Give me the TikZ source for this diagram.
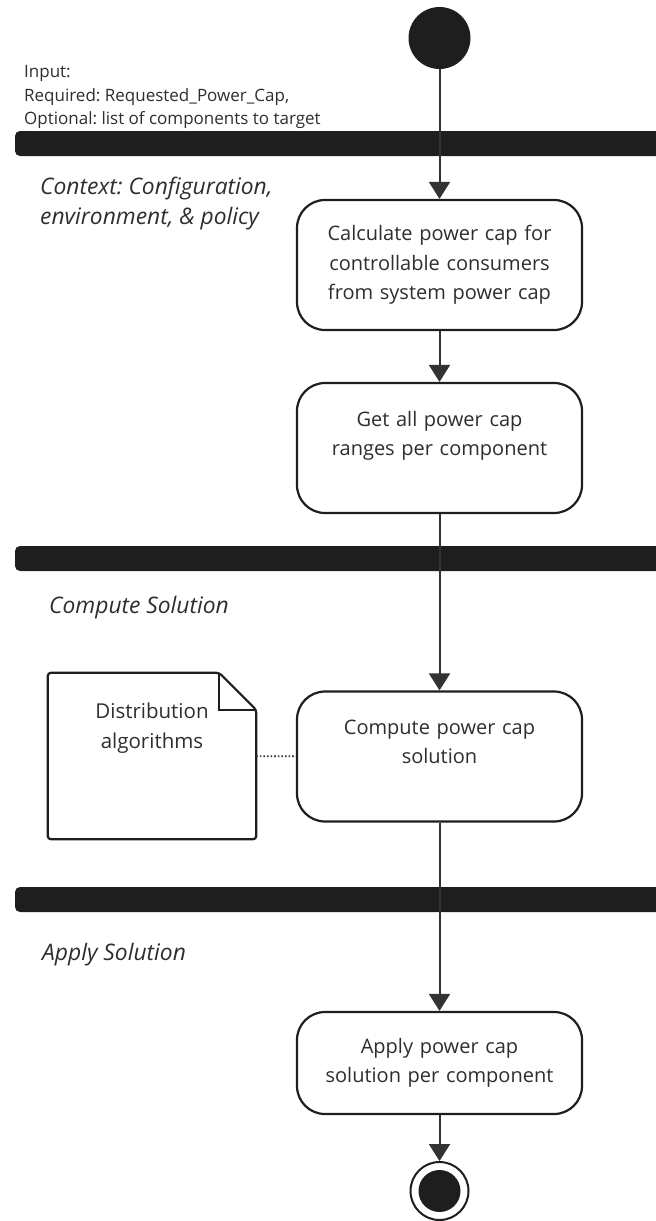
\documentclass[tikz,border=0pt]{standalone}
\usepackage{fontspec}
\setmainfont{Open Sans}
\frenchspacing
\usetikzlibrary{arrows.meta,positioning}

\definecolor{ink}{HTML}{1E1E1E}
\definecolor{wire}{HTML}{333333}
\definecolor{txt}{HTML}{2E2E2E}

\tikzset{
  act/.style={draw=ink, line width=2.2pt, rounded corners=28pt, fill=white,
    minimum width=285pt, minimum height=130pt, text width=275pt, align=center,
    font=\fontsize{20}{29.5}\selectfont, text=txt},
  note/.style={minimum width=208pt, minimum height=166pt, text width=195pt,
    align=center, font=\fontsize{20.5}{30}\selectfont, text=txt},
  flow/.style={draw=wire, line width=2pt, -{Triangle[length=17pt,width=21pt]}},
  forkbar/.style={fill=ink, rounded corners=5pt, minimum width=665pt,
    minimum height=25pt, inner sep=0pt},
  startdot/.style={circle, fill=ink, minimum size=62pt, inner sep=0pt},
  enddot/.style={circle, draw=ink, line width=2pt, fill=white, minimum size=58pt,
    inner sep=0pt, path picture={\fill[ink] (path picture bounding box.center) circle (21pt);}},
  caption/.style={font=\fontsize{22.8}{30}\selectfont\itshape, text=txt,
    align=left, anchor=west, inner sep=0pt},
  inputs/.style={font=\fontsize{17}{23.5}\selectfont, text=txt,
    align=left, anchor=west, inner sep=0pt}
}

\begin{document}
\begin{tikzpicture}[x=1pt, y=-1pt]
  \useasboundingbox (0,0) rectangle (656,1221);
  \clip (0,0) rectangle (656,1221);

  % Fork bars
  \node[forkbar] (bar1) at (347.5,143.5) {};
  \node[forkbar] (bar2) at (347.5,558.5) {};
  \node[forkbar] (bar3) at (347.5,899.5) {};

  % Start and end
  \node[startdot] (start) at (439.5,38) {};
  \node[enddot] (stop) at (439.5,1191) {};

  % Actions
  \node[act] (calc) at (439.5,265) {Calculate power cap for\\controllable consumers\\from system power cap};
  \node[act] (ranges) at (439.5,448) {Get all power cap\\ranges per component\\~};
  \node[act] (compute) at (439.5,756.5) {Compute power cap\\solution\\~};
  \node[act, minimum height=102pt] (apply) at (439.5,1063) {Apply power cap\\solution per component};

  % Note with folded corner
  \node[note] (algo) at (152,756) {Distribution\\algorithms\\~\\~};
  \draw[ink, line width=2.2pt, rounded corners=3pt]
    (algo.north west) -- ([xshift=-37pt]algo.north east)
    -- ([yshift=-37pt]algo.north east) -- (algo.south east)
    -- (algo.south west) -- cycle;
  \draw[ink, line width=2.2pt] ([xshift=-37pt]algo.north east) |- ([yshift=-37pt]algo.north east);

  % Texts
  \node[inputs] (input) at (24,97) {Input:\\Required: Requested\_Power\_Cap,\\Optional: list of components to target};
  \node[caption] (context) at (40,204) {Context: Configuration,\\environment, \& policy};
  \node[caption] (solve) at (49,608) {Compute Solution};
  \node[caption] (place) at (42,955) {Apply Solution};

  % Flow
  \draw[flow] (start) -- (calc);
  \draw[flow] (calc) -- (ranges);
  \draw[flow] (ranges) -- (compute);
  \draw[flow] (compute) -- (apply);
  \draw[flow] (apply) -- (stop);
  \draw[wire, line width=1.6pt, dash pattern=on 1.6pt off 2pt] (algo) -- (compute);
\end{tikzpicture}
\end{document}
